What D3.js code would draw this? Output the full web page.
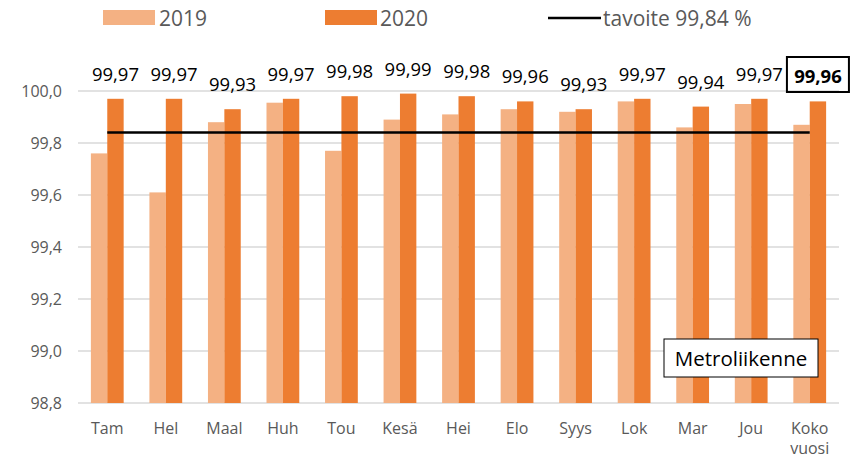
<!DOCTYPE html>
<html>
<head>
<meta charset="utf-8">
<script src="https://cdn.jsdelivr.net/npm/d3@7"></script>
<style>
  body { margin: 0; background: #fff; }
  svg { display: block; font-family: "Open Sans", sans-serif; }
</style>
</head>
<body>
<div id="chart"></div>
<script>
// chart data
const categories = ["Tam", "Hel", "Maal", "Huh", "Tou", "Kesä", "Hei", "Elo", "Syys", "Lok", "Mar", "Jou", "Koko vuosi"];
const values2019 = [99.76, 99.61, 99.88, 99.955, 99.77, 99.89, 99.91, 99.93, 99.92, 99.96, 99.86, 99.95, 99.87];
const values2020 = [99.97, 99.97, 99.93, 99.97, 99.98, 99.99, 99.98, 99.96, 99.93, 99.97, 99.94, 99.97, 99.96];
const target = 99.84;
const yTicks = [98.8, 99.0, 99.2, 99.4, 99.6, 99.8, 100.0];

const width = 856, height = 458;
const c2019 = "#F4B183", c2020 = "#ED7D31";

const svg = d3.select("#chart").append("svg")
    .attr("width", width)
    .attr("height", height);

// scales
const x = d3.scaleBand().domain(categories).range([78, 839]).padding(0);
const y = d3.scaleLinear().domain([98.8, 100.0]).range([403, 91]);
const barW = x.bandwidth() * 0.28;

const fi = d3.formatLocale({ decimal: ",", thousands: " ", grouping: [3], currency: ["", "€"] });
const fmt1 = fi.format(".1f"), fmt2 = fi.format(".2f");

// gridlines
svg.append("g").selectAll("line")
    .data(yTicks)
    .join("line")
    .attr("x1", 78).attr("x2", 839)
    .attr("y1", d => y(d)).attr("y2", d => y(d))
    .attr("stroke", "#d9d9d9")
    .attr("stroke-width", 1.5);

// y tick labels
svg.append("g").selectAll("text")
    .data(yTicks)
    .join("text")
    .attr("x", 62)
    .attr("y", d => y(d) + 6)
    .attr("text-anchor", "end")
    .attr("font-size", 16)
    .attr("fill", "#595959")
    .text(d => fmt1(d));

// bars
const rows = categories.map((c, i) => ({ cat: c, v19: values2019[i], v20: values2020[i] }));
const cx = d => x(d.cat) + x.bandwidth() / 2;

svg.append("g").selectAll("rect")
    .data(rows)
    .join("rect")
    .attr("x", d => cx(d) - barW)
    .attr("width", barW)
    .attr("y", d => y(d.v19))
    .attr("height", d => y(98.8) - y(d.v19))
    .attr("fill", c2019);

svg.append("g").selectAll("rect")
    .data(rows)
    .join("rect")
    .attr("x", d => cx(d))
    .attr("width", barW)
    .attr("y", d => y(d.v20))
    .attr("height", d => y(98.8) - y(d.v20))
    .attr("fill", c2020);

// target line
svg.append("line")
    .attr("x1", cx(rows[0]))
    .attr("x2", cx(rows[rows.length - 1]))
    .attr("y1", y(target)).attr("y2", y(target))
    .attr("stroke", "#000")
    .attr("stroke-width", 2.5);

// data labels for 2020
const last = rows.length - 1;
svg.append("g").selectAll("text")
    .data(rows)
    .join("text")
    .attr("x", d => cx(d) + barW / 2)
    .attr("y", d => y(d.v20) - 18)
    .attr("text-anchor", "middle")
    .attr("font-size", 18.5)
    .attr("font-weight", (d, i) => i === last ? "bold" : "normal")
    .attr("fill", "#000")
    .text(d => fmt2(d.v20));

// box round the yearly value
const kx = cx(rows[last]) + barW / 2;
svg.append("rect")
    .attr("x", kx - 31).attr("y", 57)
    .attr("width", 62).attr("height", 35)
    .attr("fill", "none")
    .attr("stroke", "#000")
    .attr("stroke-width", 2);

// category labels
const catG = svg.append("g");
rows.forEach(d => {
    const t = catG.append("text")
        .attr("x", cx(d))
        .attr("y", 434)
        .attr("text-anchor", "middle")
        .attr("font-size", 16)
        .attr("fill", "#595959");
    d.cat.split(" ").forEach((w, i) => {
        t.append("tspan").attr("x", cx(d)).attr("dy", i ? 20 : 0).text(w);
    });
});

// legend
const legend = svg.append("g");
legend.append("rect").attr("x", 103).attr("y", 10).attr("width", 52).attr("height", 15).attr("fill", c2019);
legend.append("text").attr("x", 159).attr("y", 26).attr("font-size", 21).attr("fill", "#595959").text("2019");
legend.append("rect").attr("x", 325).attr("y", 10).attr("width", 52).attr("height", 15).attr("fill", c2020);
legend.append("text").attr("x", 380).attr("y", 26).attr("font-size", 21).attr("fill", "#595959").text("2020");
legend.append("line").attr("x1", 548).attr("x2", 601).attr("y1", 18).attr("y2", 18).attr("stroke", "#000").attr("stroke-width", 2.5);
legend.append("text").attr("x", 603).attr("y", 26).attr("font-size", 21).attr("fill", "#595959").text("tavoite 99,84 %");

// title box
svg.append("rect")
    .attr("x", 664).attr("y", 339)
    .attr("width", 154).attr("height", 38)
    .attr("fill", "#fff")
    .attr("stroke", "#000")
    .attr("stroke-width", 1);
svg.append("text")
    .attr("x", 741).attr("y", 366)
    .attr("text-anchor", "middle")
    .attr("font-size", 20.5)
    .attr("fill", "#000")
    .text("Metroliikenne");
</script>
</body>
</html>
